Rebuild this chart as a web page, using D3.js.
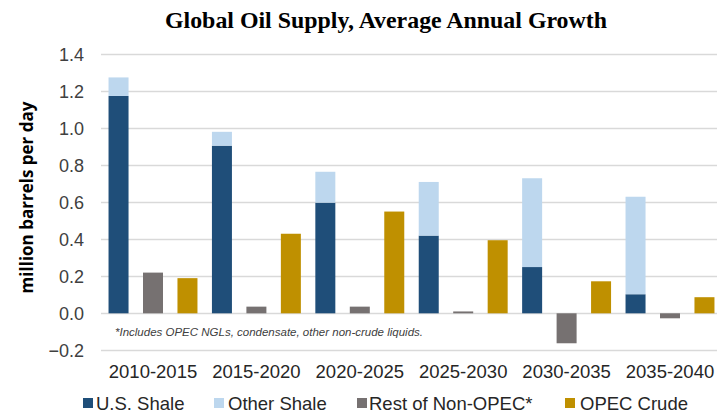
<!DOCTYPE html>
<html>
<head>
<meta charset="utf-8">
<script src="https://cdn.jsdelivr.net/npm/d3@7"></script>
<style>
  html, body { margin: 0; padding: 0; background: #fff; }
  svg { display: block; }
</style>
</head>
<body>
<svg id="chart" width="717" height="414"></svg>
<script>
const periods = ["2010-2015", "2015-2020", "2020-2025", "2025-2030", "2030-2035", "2035-2040"];
const usShale = [1.175, 0.906, 0.598, 0.42, 0.25, 0.103];
const otherShale = [0.10, 0.075, 0.167, 0.29, 0.48, 0.527];
const restNonOpec = [0.22, 0.036, 0.036, 0.01, -0.162, -0.027];
const opecCrude = [0.19, 0.43, 0.55, 0.395, 0.173, 0.087];
const yTicks = [-0.2, 0.0, 0.2, 0.4, 0.6, 0.8, 1.0, 1.2, 1.4];
const seriesNames = ["U.S. Shale", "Other Shale", "Rest of Non-OPEC*", "OPEC Crude"];
const colors = ["#1f4e79", "#bdd7ee", "#767171", "#bf9000"];

const svg = d3.select("#chart");
const plotLeft = 101.3, plotRight = 721.7, plotTop = 54.3, plotBottom = 350.3;

const x = d3.scaleBand().domain(periods).range([plotLeft, plotRight]).padding(0);
const slot = d3.scaleBand().domain(["shale", "rest", "opec"]).range([0, x.bandwidth()]).padding(0);
const y = d3.scaleLinear().domain([-0.2, 1.4]).range([plotBottom, plotTop]);
const barW = 20;
const off = (slot.bandwidth() - barW) / 2;

// gridlines
svg.append("g").selectAll("line").data(yTicks).join("line")
  .attr("x1", 101).attr("x2", 717)
  .attr("y1", d => Math.round(y(d)) + 0.5).attr("y2", d => Math.round(y(d)) + 0.5)
  .attr("stroke", "#d9d9d9").attr("stroke-width", 1.3);

// y axis labels
const yAxis = d3.axisLeft(y).tickValues(yTicks).tickFormat(d3.format(".1f")).tickSize(0).tickPadding(0);
const gy = svg.append("g").attr("transform", "translate(84,0)").call(yAxis);
gy.select(".domain").remove();
gy.selectAll("text").attr("font-family", "Liberation Sans, Arial, sans-serif")
  .attr("font-size", 18).attr("fill", "#404040");

// bars
const g = svg.append("g");
periods.forEach((p, i) => {
  const x0 = x(p);
  g.append("rect").attr("x", x0 + slot("shale") + off).attr("width", barW)
    .attr("y", y(usShale[i])).attr("height", y(0) - y(usShale[i])).attr("fill", colors[0]);
  g.append("rect").attr("x", x0 + slot("shale") + off).attr("width", barW)
    .attr("y", y(usShale[i] + otherShale[i])).attr("height", y(usShale[i]) - y(usShale[i] + otherShale[i])).attr("fill", colors[1]);
  const r = restNonOpec[i];
  g.append("rect").attr("x", x0 + slot("rest") + off).attr("width", barW)
    .attr("y", y(Math.max(0, r))).attr("height", Math.abs(y(r) - y(0))).attr("fill", colors[2]);
  g.append("rect").attr("x", x0 + slot("opec") + off).attr("width", barW)
    .attr("y", y(opecCrude[i])).attr("height", y(0) - y(opecCrude[i])).attr("fill", colors[3]);
});

// x axis labels
const gx = svg.append("g").attr("transform", "translate(0,378)")
  .call(d3.axisBottom(x).tickSize(0).tickPadding(0));
gx.select(".domain").remove();
gx.selectAll("text").attr("font-family", "Liberation Sans, Arial, sans-serif")
  .attr("font-size", 18.5).attr("fill", "#262626").attr("dy", 0);

// footnote
svg.append("text").attr("x", 115).attr("y", 336)
  .attr("font-family", "Liberation Sans, Arial, sans-serif").attr("font-style", "italic")
  .attr("font-size", 11.5).attr("fill", "#404040")
  .attr("textLength", 308).attr("lengthAdjust", "spacingAndGlyphs")
  .text("*Includes OPEC NGLs, condensate, other non-crude liquids.");

// y title
svg.append("text").attr("transform", "translate(33,197.5) rotate(-90)")
  .attr("text-anchor", "middle")
  .attr("font-family", "Open Sans, sans-serif").attr("font-weight", "bold")
  .attr("font-size", 17).attr("fill", "#000")
  .text("million barrels per day");

// title
svg.append("text").attr("x", 386).attr("y", 27.5).attr("text-anchor", "middle")
  .attr("font-family", "Liberation Serif, Times New Roman, serif").attr("font-weight", "bold")
  .attr("font-size", 22.5).attr("fill", "#000")
  .attr("textLength", 442).attr("lengthAdjust", "spacingAndGlyphs")
  .text("Global Oil Supply, Average Annual Growth");

// legend
const legendX = [83, 214, 357, 565];
const legendTextX = [96, 228, 369, 580];
const lg = svg.append("g");
seriesNames.forEach((n, i) => {
  lg.append("rect").attr("x", legendX[i]).attr("y", 398).attr("width", 10).attr("height", 10).attr("fill", colors[i]);
  lg.append("text").attr("x", legendTextX[i]).attr("y", 409.5)
    .attr("font-family", "Liberation Sans, Arial, sans-serif").attr("font-size", 18.5).attr("fill", "#262626")
    .text(n);
});
</script>
</body>
</html>
